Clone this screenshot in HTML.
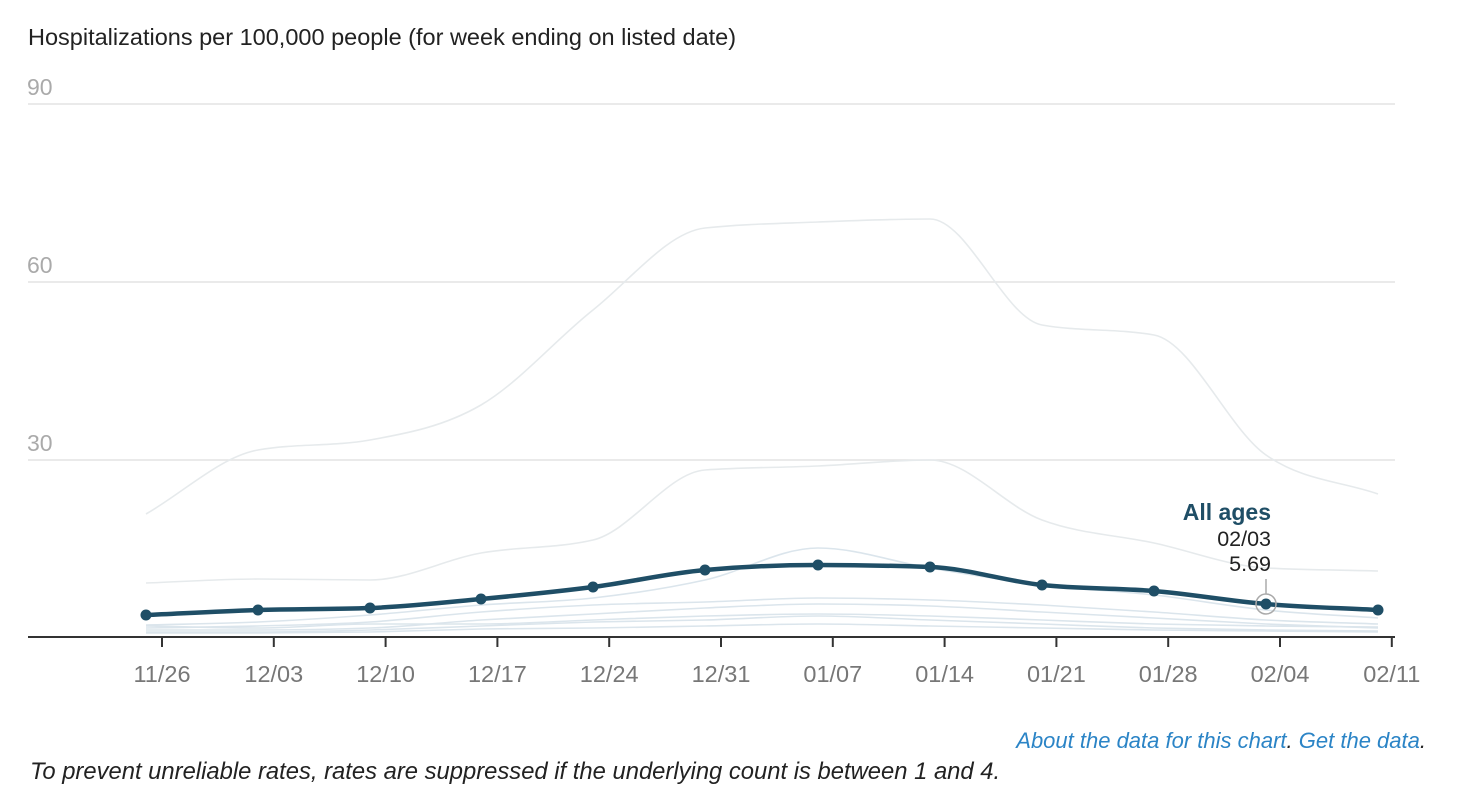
<!DOCTYPE html><html><head><meta charset="utf-8"><style>
body{margin:0;background:#fff;width:1460px;height:792px;overflow:hidden;font-family:"Liberation Sans",Arial,sans-serif}
</style></head><body>
<svg id="s" width="1460" height="792" xmlns="http://www.w3.org/2000/svg" font-family="Liberation Sans, Arial, sans-serif">
<text x="28" y="45" font-size="23.5" fill="#222">Hospitalizations per 100,000 people (for week ending on listed date)</text>
<g stroke="#e3e3e3" stroke-width="1.5">
<line x1="28" y1="104" x2="1395" y2="104"/><line x1="28" y1="282" x2="1395" y2="282"/><line x1="28" y1="460" x2="1395" y2="460"/></g>
<g fill="#aaa" font-size="23"><text x="27" y="95">90</text><text x="27" y="273">60</text><text x="27" y="451">30</text></g>
<g id="lines" fill="none"></g>
<line x1="28" y1="637" x2="1395" y2="637" stroke="#333" stroke-width="2"/>
<g id="ticks" stroke="#333" stroke-width="2"></g>
<g id="tl" fill="#777" font-size="23.5" text-anchor="middle"></g>
<circle cx="1266" cy="604" r="10" fill="none" stroke="#aaa" stroke-width="1.5"/>
<line x1="1266" y1="579" x2="1266" y2="594" stroke="#aaa" stroke-width="1.5"/>
<g text-anchor="end" font-size="21.5" fill="#222"><text x="1271" y="520" font-weight="bold" font-size="23" fill="#1f4e66">All ages</text><text x="1271" y="546">02/03</text><text x="1271" y="571">5.69</text></g>
<text x="1426" y="748" text-anchor="end" font-size="22" font-style="italic" fill="#2b84c6">About the data for this chart<tspan fill="#222">.</tspan> Get the data<tspan fill="#222">.</tspan></text>
<text x="30" y="779" font-size="23.8" font-style="italic" fill="#222">To prevent unreliable rates, rates are suppressed if the underlying count is between 1 and 4.</text>
</svg>
<script>
var X=[146,258,370,481,593,705,818,930,1042,1154,1266,1378];
function sign(x){return x<0?-1:1;}
function path(Y){var n=X.length,d=[],m=[];for(var i=0;i<n-1;i++)d.push((Y[i+1]-Y[i])/(X[i+1]-X[i]));
for(var i=0;i<n;i++){if(i==0)m.push(d[0]);else if(i==n-1)m.push(d[n-2]);else{var a=d[i-1],b=d[i];if(a*b<=0)m.push(0);else{var h0=X[i]-X[i-1],h1=X[i+1]-X[i],p=(a*h1+b*h0)/(h0+h1);m.push((sign(a)+sign(b))*Math.min(Math.abs(a),Math.abs(b),0.5*Math.abs(p)));}}}
var s="M"+X[0]+","+Y[0];for(var i=0;i<n-1;i++){var h=(X[i+1]-X[i])/3;s+=" C"+(X[i]+h)+","+(Y[i]+m[i]*h)+" "+(X[i+1]-h)+","+(Y[i+1]-m[i+1]*h)+" "+X[i+1]+","+Y[i+1];}return s;}
var g=document.getElementById("lines"),ns="http://www.w3.org/2000/svg";
function add(Y,col,w){var e=document.createElementNS(ns,"path");e.setAttribute("d",path(Y));e.setAttribute("stroke",col);e.setAttribute("stroke-width",w);g.appendChild(e);}
var grays=[[514,450,440,405,310,228,222,219,325,335,455,494],[583,579,580,553,540,470,466,460,520,543,568,571],
[625,622,615,605,598,580,548,568,585,595,610,618],[628,626,622,612,605,602,598,600,605,612,620,624],
[630,630,628,620,614,608,604,606,612,618,624,628],[632,632,630,626,622,620,616,620,624,628,630,631],
[626,628,624,624,620,616,614,616,620,624,626,627],[633,633,632,629,628,626,624,626,628,630,631,632]];
grays.forEach(function(Y,i){add(Y,i<2?"#e6eaec":"#dbe5ec",1.6);});
var M=[615,610,608,599,587,570,565,567,585,591,604,610];add(M,"#1f4e66",4.5);
M.forEach(function(y,i){var c=document.createElementNS(ns,"circle");c.setAttribute("cx",X[i]);c.setAttribute("cy",y);c.setAttribute("r",5.5);c.setAttribute("fill","#1f4e66");document.getElementById("s").appendChild(c);});
var lab=["11/26","12/03","12/10","12/17","12/24","12/31","01/07","01/14","01/21","01/28","02/04","02/11"];
lab.forEach(function(l,i){var x=162+i*111.8;var t=document.createElementNS(ns,"line");t.setAttribute("x1",x);t.setAttribute("x2",x);t.setAttribute("y1",637);t.setAttribute("y2",647);document.getElementById("ticks").appendChild(t);
var tx=document.createElementNS(ns,"text");tx.setAttribute("x",x);tx.setAttribute("y",682);tx.textContent=l;document.getElementById("tl").appendChild(tx);});
</script>
</body></html>
